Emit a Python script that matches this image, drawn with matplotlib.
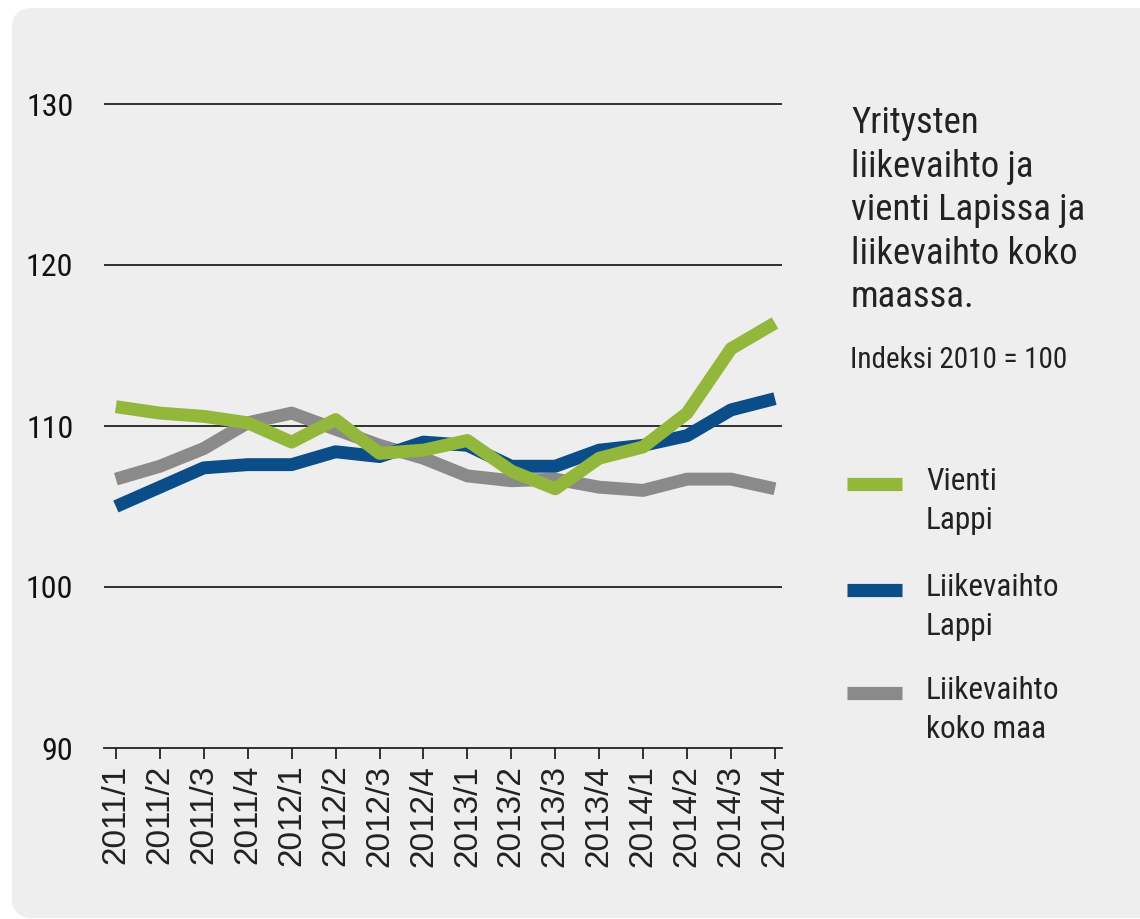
import matplotlib
matplotlib.use('Agg')
import matplotlib.pyplot as plt
from matplotlib.lines import Line2D
from matplotlib.patches import FancyBboxPatch
from matplotlib.transforms import IdentityTransform

quarters = ['2011/1', '2011/2', '2011/3', '2011/4',
            '2012/1', '2012/2', '2012/3', '2012/4',
            '2013/1', '2013/2', '2013/3', '2013/4',
            '2014/1', '2014/2', '2014/3', '2014/4']

vienti_lappi = [111.2, 110.8, 110.6, 110.2, 109.0, 110.4, 108.3, 108.5,
                109.1, 107.2, 106.1, 108.0, 108.7, 110.8, 114.8, 116.4]
liikevaihto_lappi = [105.0, 106.2, 107.4, 107.6, 107.6, 108.4, 108.1, 109.0,
                     108.8, 107.5, 107.5, 108.5, 108.8, 109.4, 111.0, 111.7]
liikevaihto_koko_maa = [106.7, 107.5, 108.6, 110.2, 110.8, 109.8, 108.8, 108.0,
                        106.9, 106.6, 106.7, 106.2, 106.0, 106.7, 106.7, 106.1]

series_labels = ['Vienti\nLappi', 'Liikevaihto\nLappi', 'Liikevaihto\nkoko maa']
series_colors = ['#93b73a', '#0b4d88', '#8a8a8a']
yticks = [90, 100, 110, 120, 130]

title = 'Yritysten\nliikevaihto ja\nvienti Lapissa ja\nliikevaihto koko\nmaassa.'
subtitle = 'Indeksi 2010 = 100'

narrow = ['Liberation Sans Narrow', 'Roboto Condensed', 'Liberation Sans', 'DejaVu Sans']
plt.rcParams['font.family'] = ['Liberation Sans', 'DejaVu Sans']

W, H = 1140, 919
fig = plt.figure(figsize=(W / 100, H / 100), dpi=100)
fig.patch.set_facecolor('white')

# rounded grey panel behind everything
panel = FancyBboxPatch((12 + 20, 1 + 20), 1200 - 40, 910 - 40,
                       boxstyle='round,pad=20', transform=IdentityTransform(),
                       facecolor='#eeeeee', edgecolor='none', zorder=-10)
fig.patches.append(panel)

# axes: x index -0.27 at 104px, 15.16 at 782px; y 89.8..130.2
ymin, ymax = 89.8, 130.2
ppu = (748 - 104) / 40.0
top_px = 104 - (ymax - 130) * ppu
bot_px = 748 + (90 - ymin) * ppu
ax = fig.add_axes([104 / W, 1 - bot_px / H, (782 - 104) / W, (bot_px - top_px) / H])
ax.set_facecolor('none')
x = list(range(len(quarters)))

for yv in yticks[1:]:
    ax.axhline(yv, color='#222222', lw=1.3, zorder=1)

data = [liikevaihto_koko_maa, liikevaihto_lappi, vienti_lappi]
cols = [series_colors[2], series_colors[1], series_colors[0]]
for vals, c in zip(data, cols):
    ax.plot(x, vals, color=c, lw=9.3, solid_capstyle='butt', zorder=3)

ax.set_xlim(-0.27, 15.16)
ax.set_ylim(ymin, ymax)
for s in ['top', 'right', 'left']:
    ax.spines[s].set_visible(False)
ax.spines['bottom'].set_position(('data', 90))
ax.spines['bottom'].set_color('#222222')
ax.spines['bottom'].set_linewidth(1.3)

ax.set_xticks(x)
ax.set_xticklabels(quarters, rotation=90, fontsize=24, color='#222222')
ax.tick_params(axis='x', direction='out', length=8, width=1.3, color='#222222', pad=4)
ax.set_yticks(yticks)
ax.set_yticklabels([str(v) for v in yticks], fontsize=23, color='#111111', family=narrow)
ax.tick_params(axis='y', length=0, pad=22)

# title block
fig.text(851 / W, 1 - 105 / H, title, fontsize=26.5, family=narrow, color='#222222',
         va='top', ha='left', linespacing=1.27)
fig.text(850 / W, 1 - 368 / H, subtitle, fontsize=21, family=narrow, color='#222222',
         va='baseline', ha='left')

# legend
leg_y = [484, 590, 693]
for lab, c, yy in zip(series_labels, series_colors, leg_y):
    fig.add_artist(Line2D([847 / W, 902 / W], [1 - yy / H, 1 - yy / H],
                          color=c, lw=9.5, solid_capstyle='butt'))
    fig.text(926 / W, 1 - (yy - 17) / H, lab, fontsize=22.5, family=narrow,
             color='#222222', va='top', ha='left', linespacing=1.45)

fig.savefig('out.png', dpi=100)
